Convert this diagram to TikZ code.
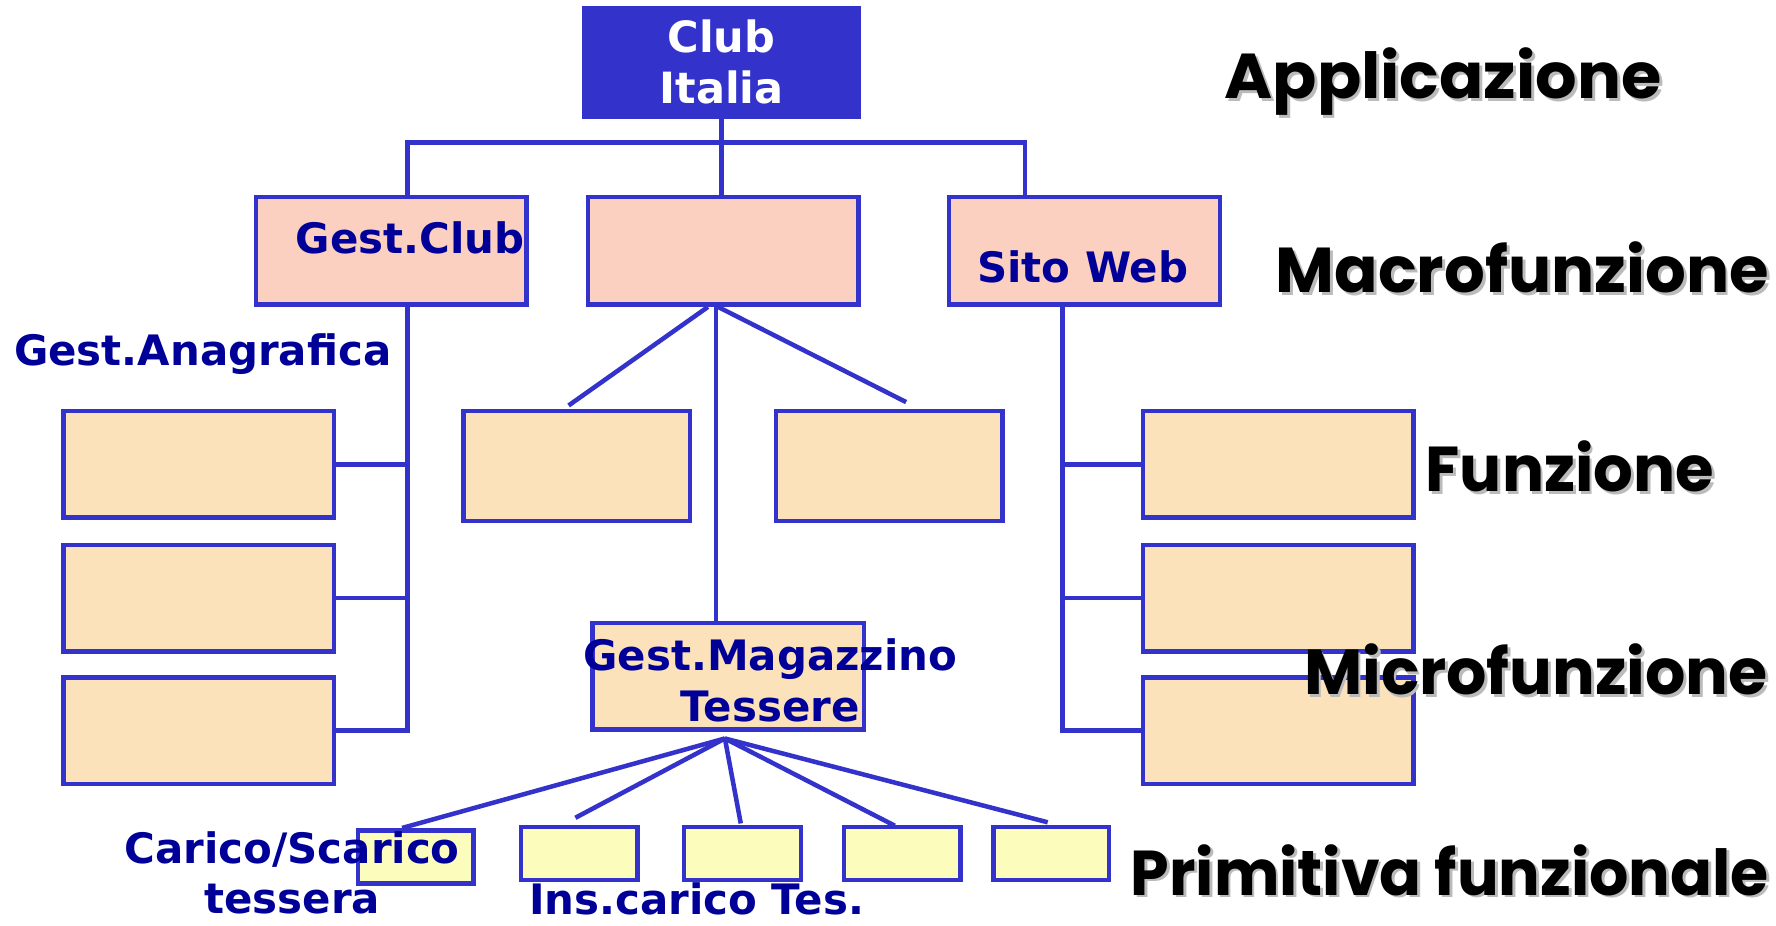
\documentclass[tikz,border=0pt]{standalone}
\usepackage{fontspec}
\usepackage{graphicx}
\usetikzlibrary{calc}
\newfontfamily\boxfont{DejaVu Sans}
\newfontfamily\tierfont{Poppins}
\definecolor{linec}{HTML}{3333CC}
\definecolor{textblue}{HTML}{000099}
\definecolor{macrofill}{HTML}{FBD0C0}
\definecolor{funcfill}{HTML}{FBE2BA}
\definecolor{primfill}{HTML}{FCFCBC}
\definecolor{shadowc}{HTML}{BBBBBB}
% level name with a soft drop shadow: name, position, text, horizontal scale
\newcommand\tierlabel[4]{%
  \node[tier, text=shadowc] (#1s) at ($(#2)+(2.5,2.5)$) {\scalebox{#4}[1]{#3}};
  \node[tier] (#1) at (#2) {\scalebox{#4}[1]{#3}};}
\begin{document}
\begin{tikzpicture}[x=0.5pt, y=-0.5pt,
  conn/.style={draw=linec, line width=2pt},
  box/.style={draw=linec, line width=2pt, inner sep=0pt, anchor=north west},
  macrobox/.style={box, fill=macrofill, minimum width=119.5pt, minimum height=47.5pt},
  sidebox/.style={box, fill=funcfill, minimum width=119.5pt, minimum height=47pt},
  midbox/.style={box, fill=funcfill, minimum width=100pt, minimum height=48.5pt},
  primbox/.style={box, fill=primfill, minimum width=51.5pt, minimum height=23.5pt},
  bluelbl/.style={text=textblue, font=\boxfont\bfseries\fontsize{18.5}{22.5}\selectfont, align=center, inner sep=0pt},
  tier/.style={font=\tierfont\bfseries\fontsize{28}{32}\selectfont, inner sep=0pt}]
\useasboundingbox (0,0) rectangle (1568,817);

% top level
\node[box, fill=linec, minimum width=121pt, minimum height=48pt, text=white,
      font=\boxfont\bfseries\fontsize{19}{22.5}\selectfont, align=center, anchor=center]
      (club) at (637,55) {Club\\Italia};

% macro functions
\node[macrobox] (gc)  at (224,172) {};
\node[macrobox] (mid) at (517,172) {};
\node[macrobox] (sw)  at (836,172) {};

% functions, left column
\node[sidebox] (l1) at (54,361) {};
\node[sidebox] (l2) at (54,479) {};
\node[sidebox] (l3) at (54,596) {};
% functions, middle
\node[midbox] (m1) at (407,361) {};
\node[midbox] (m2) at (683,361) {};
\node[box, fill=funcfill, minimum width=120pt, minimum height=47pt] (gm) at (521,548) {};
% functions, right column
\node[sidebox] (r1) at (1007,361) {};
\node[sidebox] (r2) at (1007,479) {};
\node[sidebox] (r3) at (1007,596) {};

% primitives
\node[primbox, minimum width=51pt] (p1) at (314,731) {};
\node[primbox] (p2) at (458,728) {};
\node[primbox] (p3) at (602,728) {};
\node[primbox] (p4) at (743,728) {};
\node[primbox, minimum width=51pt] (p5) at (875,728) {};

% connectors
\coordinate (bus) at (0,126);
\coordinate (gcTop) at ($(gc.north west)+(136,0)$);
\coordinate (swTop) at ($(sw.north west)+(69,0)$);
\draw[conn] (club.south) -- (mid.north -| club.south);
\draw[conn] (gcTop) -- (gcTop |- bus) -- (swTop |- bus) -- (swTop);

\coordinate (spineL) at ($(gc.south west)+(136,0)$);
\draw[conn] (spineL) |- (l3.east);
\draw[conn] (l1.east) -- (l1.east -| spineL);
\draw[conn] (l2.east) -- (l2.east -| spineL);

\coordinate (spineR) at ($(sw.south west)+(102,0)$);
\draw[conn] (spineR) |- (r3.west);
\draw[conn] (r1.west) -- (r1.west -| spineR);
\draw[conn] (r2.west) -- (r2.west -| spineR);

\coordinate (hub) at ($(mid.south west)+(108,0)$);
\draw[conn] (hub) -- ($(m1.north west)+(95,-3)$);
\draw[conn] ($(mid.south west)+(115,0)$) -- ($(gm.north west)+(111,0)$);
\draw[conn] ($(mid.south west)+(117,0)$) -- ($(m2.north west)+(117,-6)$);

\coordinate (phub) at ($(gm.south west)+(119,6)$);
\draw[conn] (phub) -- ($(p1.north west)+(41,0)$);
\draw[conn] (phub) -- ($(p2.north west)+(50,-6)$);
\draw[conn] (phub) -- ($(p3.north west)+(52,-1)$);
\draw[conn] (phub) -- ($(p4.north west)+(47,1)$);
\draw[conn] (phub) -- ($(p5.north west)+(50,-2)$);

% labels on the boxes
\node[bluelbl] (gcLbl) at (362,210) {Gest.Club};
\node[bluelbl] (swLbl) at (956,236) {Sito Web};
\node[bluelbl] (gaLbl) at (179,313) {Gest.Anagrafica};
\node[bluelbl] (gmLbl) at (680,601) {Gest.Magazzino\\Tessere};
\node[bluelbl, font=\boxfont\bfseries\fontsize{18.5}{22}\selectfont] (csLbl) at (258,771) {Carico/Scarico\\tessera};
\node[bluelbl] (icLbl) at (615,794) {Ins.carico Tes.};

% level names
\tierlabel{tApp}{1274,72}{Applicazione}{1.03}
\tierlabel{tMacro}{1344,236}{Macrofunzione}{1.01}
\tierlabel{tFunz}{1386,412}{Funzione}{0.985}
\tierlabel{tMicro}{1356,591}{Microfunzione}{1}
\tierlabel{tPrim}{1280,768}{Primitiva funzionale}{0.975}
\end{tikzpicture}
\end{document}
